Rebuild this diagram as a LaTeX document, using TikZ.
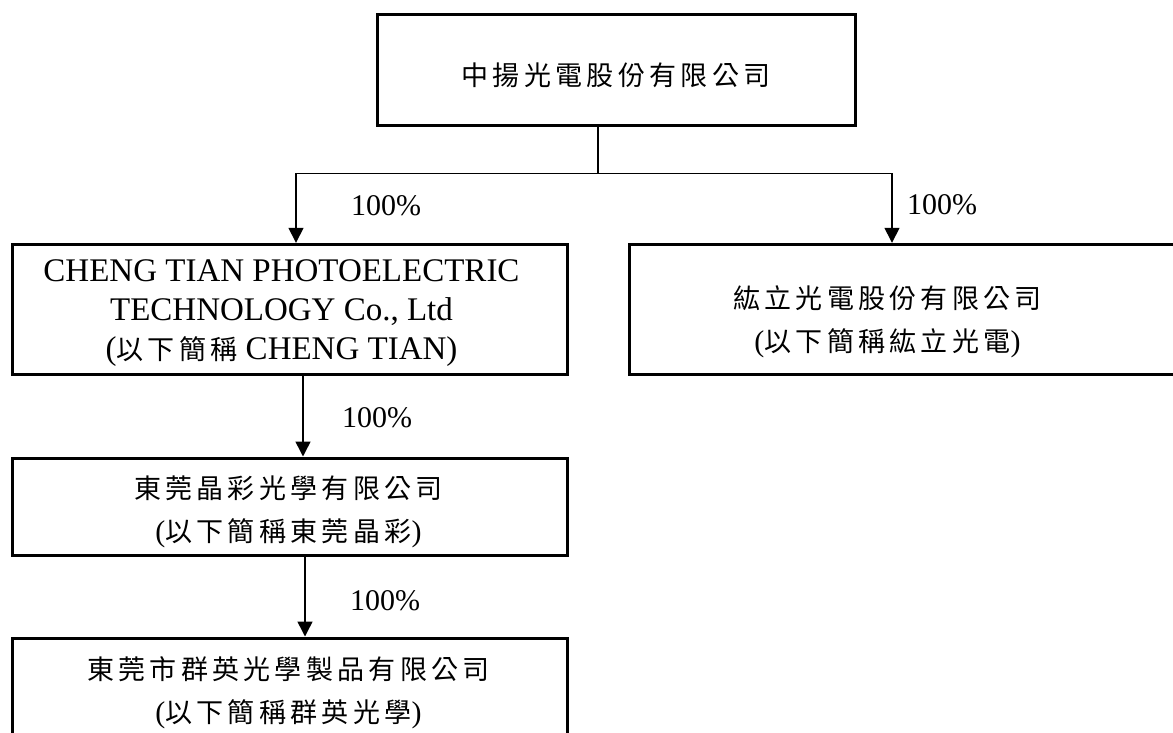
\documentclass[tikz,border=0pt]{standalone}
\usepackage{fontspec}
\setmainfont{Liberation Serif}
\newfontfamily\cjk[Scale=0.9,LetterSpace=16]{Noto Sans CJK TC}
\newcommand\ck[1]{{\fontsize{30}{40}\cjk #1}}
\usetikzlibrary{arrows.meta,calc}
\begin{document}
\begin{tikzpicture}[x=1pt,y=-1pt,
  box/.style={draw, line width=3pt, inner sep=0pt},
  txt/.style={inner sep=0pt, align=center, font=\fontsize{30}{43}\selectfont},
  ltxt/.style={inner sep=0pt, align=center, font=\fontsize{33}{39}\selectfont},
  conn/.style={line width=1.5pt},
  arr/.style={conn,-{Triangle[width=15pt,length=15pt]}},
  pct/.style={inner sep=0pt, font=\fontsize{30}{36}\selectfont}]
\useasboundingbox (0,0) rectangle (1173,733);
\clip (0,0) rectangle (1173,733);
% boxes
\node[box, minimum width=478pt, minimum height=110.6pt] (top) at (616,70) {};
\node[box, minimum width=555pt, minimum height=130pt] (ct) at (289.5,309.3) {};
\node[box, minimum width=560pt, minimum height=130pt] (hl) at (909,309.3) {};
\node[box, minimum width=555pt, minimum height=97pt] (jc) at (289.5,506.5) {};
\node[box, minimum width=555pt, minimum height=112pt] (qy) at (289.5,694) {};
% texts
\node[txt] (topt) at (616,75) {\ck{中揚光電股份有限公司}};
\node[ltxt] (ctt) at (281.5,313) {CHENG TIAN PHOTOELECTRIC\\TECHNOLOGY Co., Ltd\\(\ck{以下簡稱} CHENG TIAN)};
\node[txt] (hlt) at (887.5,322) {\ck{紘立光電股份有限公司}\\(\ck{以下簡稱紘立光電})};
\node[txt] (jct) at (288.5,512) {\ck{東莞晶彩光學有限公司}\\(\ck{以下簡稱東莞晶彩})};
\node[txt] (qyt) at (288.5,693) {\ck{東莞市群英光學製品有限公司}\\(\ck{以下簡稱群英光學})};
% connectors
\coordinate (split) at (598,173.5);
\draw[conn] (split |- top.south) -- (split);
\draw[arr] (split) -| ([xshift=6.5pt]ct.north);
\draw[arr] (split) -| ([xshift=-17pt]hl.north);
\draw[arr] ([xshift=13.5pt]ct.south) -- ([xshift=13.5pt]jc.north);
\draw[arr] ([xshift=15.5pt]jc.south) -- ([xshift=15.5pt]qy.north);
% labels
\node[pct] (p1) at (386,206) {100\%};
\node[pct] (p2) at (942,205) {100\%};
\node[pct] (p3) at (377,418) {100\%};
\node[pct] (p4) at (385,601) {100\%};
\end{tikzpicture}
\end{document}
